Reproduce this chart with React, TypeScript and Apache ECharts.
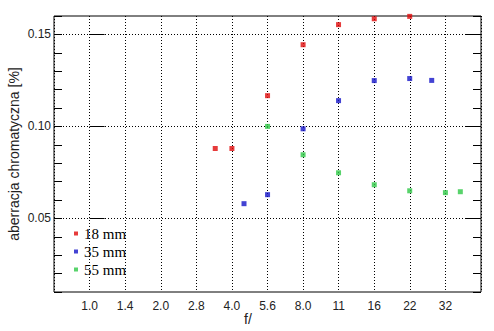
import React, { useEffect, useRef } from "react";
import * as echarts from "echarts";

const tickLabels = ["1.0", "1.4", "2.0", "2.8", "4.0", "5.6", "8.0", "11", "16", "22", "32"];
const seriesNames = ["18 mm", "35 mm", "55 mm"];
const seriesColors = ["#e00a0a", "#1414c8", "#2ec846"];

const f18 = [3.4, 4.0, 5.66, 8.0, 11.3, 16, 22.6];
const ca18 = [0.088, 0.088, 0.1167, 0.1444, 0.1553, 0.1585, 0.1598];

const f35 = [4.5, 5.66, 8.0, 11.3, 16, 22.6, 28];
const ca35 = [0.058, 0.0629, 0.0987, 0.114, 0.1249, 0.126, 0.125];

const f55 = [5.66, 8.0, 11.3, 16, 22.6, 32, 37];
const ca55 = [0.1, 0.0846, 0.0748, 0.0683, 0.065, 0.064, 0.0645];

const majorTicks = [0.05, 0.1, 0.15];

const toStop = (f: number) => 2 * Math.log2(f);

export default function App() {
  const ref = useRef<HTMLDivElement>(null);
  useEffect(() => {
    if (!ref.current) return;
    const chart = echarts.init(ref.current, undefined, { renderer: "svg" });
    const font = "Liberation Sans";
    const mkSeries = (name: string, fs: number[], vs: number[], color: string) => ({
      name,
      type: "scatter",
      symbol: "rect",
      symbolSize: 5,
      itemStyle: { color },
      data: fs.map((f, i) => [toStop(f), vs[i]]),
    });
    const yBase = { type: "value", min: 0.01, max: 0.16, axisLine: { show: false } };
    chart.setOption({
      animation: false,
      backgroundColor: "#fff",
      grid: { left: 54, right: 13, top: 16, bottom: 39, show: true, borderColor: "#000", borderWidth: 1 },
      xAxis: {
        type: "value",
        min: -1,
        max: 11,
        interval: 1,
        axisLine: { show: false },
        axisTick: { show: false },
        axisLabel: {
          color: "#222",
          fontFamily: font,
          fontSize: 12,
          margin: 8,
          formatter: (v: number) => {
            const i = Math.round(v);
            return i >= 0 && i < tickLabels.length ? tickLabels[i] : "";
          },
        },
        splitLine: { show: true, lineStyle: { color: "#000", type: [1, 2], width: 1 } },
      },
      yAxis: [
        {
          ...yBase,
          position: "left",
          axisTick: { show: true, inside: true, length: 15, customValues: majorTicks, lineStyle: { color: "#000" } },
          axisLabel: {
            customValues: majorTicks,
            color: "#222",
            fontFamily: font,
            fontSize: 12,
            margin: 3,
            formatter: (v: number) => v.toFixed(2),
          },
          splitLine: { show: true, lineStyle: { color: "#000", type: [1, 2], width: 1 } },
        },
        {
          ...yBase,
          position: "left",
          interval: 0.01,
          axisTick: { show: true, inside: true, length: 8, lineStyle: { color: "#000" } },
          axisLabel: { show: false },
          splitLine: { show: false },
        },
        {
          ...yBase,
          position: "right",
          axisTick: { show: true, inside: true, length: 15, customValues: majorTicks, lineStyle: { color: "#000" } },
          axisLabel: { show: false },
          splitLine: { show: false },
        },
        {
          ...yBase,
          position: "right",
          interval: 0.01,
          axisTick: { show: true, inside: true, length: 8, lineStyle: { color: "#000" } },
          axisLabel: { show: false },
          splitLine: { show: false },
        },
      ],
      legend: {
        orient: "vertical",
        left: 74,
        top: 226,
        padding: 0,
        itemWidth: 4,
        itemHeight: 4,
        itemGap: 3,
        icon: "rect",
        data: seriesNames,
        textStyle: { fontFamily: "Liberation Serif", fontSize: 15, lineHeight: 15, color: "#000", padding: [0, 0, 0, 1] },
      },
      graphic: [
        {
          type: "text",
          x: 14,
          y: 154,
          rotation: Math.PI / 2,
          style: {
            text: "aberracja chromatyczna [%]",
            textAlign: "center",
            textVerticalAlign: "middle",
            fontFamily: font,
            fontSize: 14,
            fill: "#222",
          },
        },
        {
          type: "text",
          x: 248,
          y: 319,
          style: {
            text: "f/",
            textAlign: "center",
            textVerticalAlign: "middle",
            fontFamily: font,
            fontSize: 14,
            fill: "#222",
          },
        },
      ],
      series: [
        mkSeries(seriesNames[0], f18, ca18, seriesColors[0]),
        mkSeries(seriesNames[1], f35, ca35, seriesColors[1]),
        mkSeries(seriesNames[2], f55, ca55, seriesColors[2]),
      ],
    });
    return () => chart.dispose();
  }, []);
  return <div ref={ref} style={{ width: 494, height: 331, position: "absolute", left: 0, top: 0 }} />;
}
